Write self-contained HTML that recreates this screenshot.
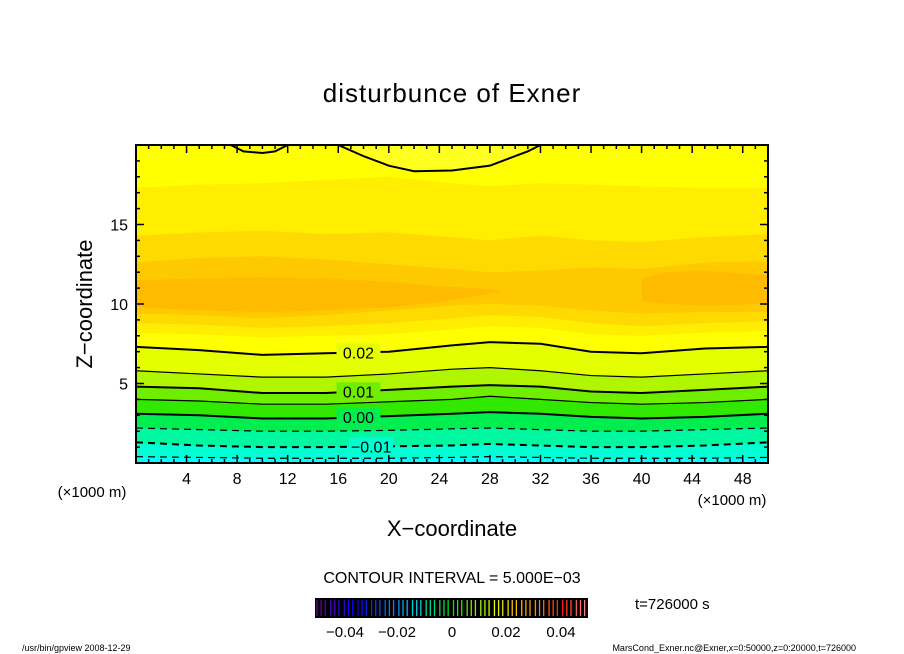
<!DOCTYPE html>
<html><head><meta charset="utf-8"><style>
body{margin:0;background:#fff;}
svg{display:block;font-family:"Liberation Sans","DejaVu Sans",sans-serif;}
</style></head><body>
<svg id="c" width="904" height="654" viewBox="0 0 904 654">
<defs><clipPath id="pc"><rect x="136" y="145" width="632" height="318"/></clipPath></defs>
<g id="fills" clip-path="url(#pc)"></g>
<g id="lines" clip-path="url(#pc)"></g>
<g id="labels"></g>
<rect x="136" y="145" width="632" height="318" fill="none" stroke="#000" stroke-width="2"/>
<g id="ticks"></g>
<text x="452" y="102" font-size="26" text-anchor="middle" letter-spacing="1">disturbunce of Exner</text>
<text x="0" y="0" font-size="22" text-anchor="middle" transform="translate(92,304) rotate(-90)">Z−coordinate</text>
<text x="452" y="536" font-size="22" text-anchor="middle">X−coordinate</text>
<text x="92" y="497" font-size="15" text-anchor="middle">(×1000 m)</text>
<text x="732" y="505" font-size="15" text-anchor="middle">(×1000 m)</text>
<text x="452" y="583" font-size="16" text-anchor="middle">CONTOUR INTERVAL = 5.000E−03</text>
<rect x="315" y="598" width="273" height="20" fill="#000"/>
<g id="cbar"></g>
<g font-size="15" text-anchor="middle">
<text x="345" y="637">−0.04</text><text x="397" y="637">−0.02</text><text x="452" y="637">0</text><text x="506" y="637">0.02</text><text x="561" y="637">0.04</text></g>
<text x="635" y="609" font-size="15">t=726000 s</text>
<text x="22" y="651" font-size="9">/usr/bin/gpview  2008-12-29</text>
<text x="856" y="651" font-size="9" text-anchor="end">MarsCond_Exner.nc@Exner,x=0:50000,z=0:20000,t=726000</text>
</svg>
<script>
const xs=[0,5,10,15,20,25,28,32,36,40,45,50];
const levels=[-0.015,-0.01,-0.005,0,0.005,0.01,0.015,0.02];
const lowerContours=[
[0.4,0.35,0.3,0.3,0.3,0.35,0.4,0.35,0.3,0.3,0.3,0.35],
[1.3,1.1,1.0,1.0,1.05,1.1,1.2,1.1,1.0,1.0,1.1,1.3],
[2.2,2.1,2.0,2.0,2.05,2.15,2.2,2.1,2.0,2.0,2.1,2.2],
[3.1,3.0,2.8,2.8,2.95,3.1,3.2,3.1,2.9,2.8,2.9,3.1],
[4.0,3.9,3.7,3.7,3.85,4.0,4.2,4.0,3.8,3.7,3.8,4.0],
[4.8,4.7,4.4,4.4,4.6,4.8,4.9,4.8,4.5,4.4,4.6,4.8],
[5.8,5.6,5.4,5.4,5.6,5.9,6.0,5.8,5.5,5.4,5.6,5.8],
[7.3,7.1,6.8,6.9,7.0,7.4,7.6,7.5,7.0,6.9,7.2,7.3]];
const bandColors=['#00ffff','#00ffd2','#00f8a0','#00ee50','#30e800','#70ee00','#b0f600','#e4ff00'];
const upperLow=[[8.2,8.1,7.9,8.0,8.1,8.4,8.6,8.5,8.1,8.0,8.2,8.3],[8.8,8.7,8.5,8.6,8.8,9.1,9.3,9.2,8.8,8.6,8.8,8.9],[9.4,9.3,9.1,9.3,9.6,9.9,10.0,9.9,9.6,9.4,9.5,9.5]];
const upperHigh=[[17.3,17.5,17.6,17.8,18,17.6,17.4,17.6,17.5,17.4,17.3,17.3],[14.3,14.5,14.6,14.4,14.5,14.2,14.0,14.3,14.0,13.9,14.2,14.4],[12.6,12.9,13.0,12.8,12.5,12.2,12.0,12.1,12.3,12.2,12.6,12.7]];
const upperColors=['#ffee00','#ffda00','#ffc900'];
const blobLX=[0,5,10,15,20,24,27,29,27,24,20,15,10,5,0];
const blobLZ=[9.8,9.6,9.5,9.6,9.8,10.1,10.5,10.8,11.0,11.1,11.4,11.6,11.7,11.6,11.5];
const blobRX=[40,42,45,50,50,45,42,40];
const blobRZ=[10.2,10.0,9.9,10.0,11.8,12.1,12.0,11.6];
const topX=[16,18,20,22,25,28,31,32];
const topZ=[20,19.3,18.7,18.35,18.4,18.7,19.6,20];
const top2X=[7.5,8.5,10,11,12];
const top2Z=[20,19.6,19.5,19.6,20];
const xTicks=[4,8,12,16,20,24,28,32,36,40,44,48];
const yTicks=[5,10,15];
const cbarLevels=[];for(let i=0;i<20;i++)cbarLevels.push(-0.05+i*0.005);
const X=v=>136+v*632/50, Z=v=>463-v*318/20;
const NS='http://www.w3.org/2000/svg';
function el(t,a,p){const e=document.createElementNS(NS,t);for(const k in a)e.setAttribute(k,a[k]);p.appendChild(e);return e;}
const F=document.getElementById('fills'),L=document.getElementById('lines');
const pts=(zs)=>xs.map((x,i)=>X(x)+','+Z(zs[i])).join(' ');
let r=el('rect',{x:136,y:145,width:632,height:318,fill:'#ffff00'},F);


for(let k=0;k<upperLow.length;k++){
 const p=pts(upperLow[k])+' '+xs.slice().reverse().map((x,j)=>X(x)+','+Z(upperHigh[k][xs.length-1-j])).join(' ');
 const e=el('polygon',{points:p,fill:upperColors[k]},F);
 
 
}
let bl=el('polygon',{points:blobLX.map((x,i)=>X(x)+','+Z(blobLZ[i])).join(' '),fill:'#ffbb00'},F);


let br=el('polygon',{points:blobRX.map((x,i)=>X(x)+','+Z(blobRZ[i])).join(' '),fill:'#ffbb00'},F);


for(let k=lowerContours.length-1;k>=0;k--){
 const e=el('polygon',{points:X(0)+','+Z(0)+' '+pts(lowerContours[k])+' '+X(50)+','+Z(0),fill:bandColors[k]},F);
 
 
}
let tp=topX.map((x,i)=>X(x)+','+Z(topZ[i])).join(' ');
let t1=el('polygon',{points:tp,fill:'#ffff20'},F);


for(let k=0;k<lowerContours.length;k++){
 const lv=levels[k];
 const e=el('polyline',{points:pts(lowerContours[k]),fill:'none',stroke:'#000','stroke-width':(k%2==1)?2:1.2},L);
 if(lv<0)e.setAttribute('stroke-dasharray','7,5');
 
 
}
let tl=el('polyline',{points:tp,fill:'none',stroke:'#000','stroke-width':2},L);


let tl2=el('polyline',{points:top2X.map((x,i)=>X(x)+','+Z(top2Z[i])).join(' '),fill:'none',stroke:'#000','stroke-width':2},L);


const lab=[[7,'0.02',17.6],[5,'0.01',17.6],[3,'0.00',17.6],[1,'−0.01',18.6]];
const LG=document.getElementById('labels');
lab.forEach(([k,t,x])=>{
 const i=xs.findIndex(v=>v>=x);const z=lowerContours[k][i-1]+(lowerContours[k][i]-lowerContours[k][i-1])*(x-xs[i-1])/(xs[i]-xs[i-1]);
 el('rect',{x:X(x)-22,y:Z(z)-9,width:44,height:18,fill:bandColors[Math.min(k,7)]},LG);
 const e=el('text',{x:X(x),y:Z(z)+6,'font-size':16,'text-anchor':'middle'},LG);e.textContent=t;
 
 
});
const T=document.getElementById('ticks');
for(let v=1;v<50;v++){const len=v%4==0?8:4;
 el('line',{x1:X(v),x2:X(v),y1:463,y2:463-len,stroke:'#000','stroke-width':1.5},T);
 el('line',{x1:X(v),x2:X(v),y1:145,y2:145+len,stroke:'#000','stroke-width':1.5},T);}
for(let v=1;v<20;v++){const len=v%5==0?8:4;
 el('line',{x1:136,x2:136+len,y1:Z(v),y2:Z(v),stroke:'#000','stroke-width':1.5},T);
 el('line',{x1:768,x2:768-len,y1:Z(v),y2:Z(v),stroke:'#000','stroke-width':1.5},T);}
xTicks.forEach(v=>{const e=el('text',{x:X(v),y:484,'font-size':16,'text-anchor':'middle'},T);e.textContent=v;
 
 });
yTicks.forEach(v=>{const e=el('text',{x:128,y:Z(v)+6,'font-size':16,'text-anchor':'end'},T);e.textContent=v;
 
 });
const C=document.getElementById('cbar');
const cmap=t=>{const stops=[[0,[120,0,160]],[0.15,[0,0,255]],[0.35,[0,200,255]],[0.5,[0,230,0]],[0.65,[230,255,0]],[0.8,[255,140,0]],[0.9,[255,30,30]],[1,[255,150,150]]];
 for(let i=1;i<stops.length;i++)if(t<=stops[i][0]){const a=stops[i-1],b=stops[i],f=(t-a[0])/(b[0]-a[0]);return 'rgb('+a[1].map((c,j)=>Math.round(c+(b[1][j]-c)*f)).join(',')+')';}return 'rgb(255,150,150)';};
const n=cbarLevels.length,w=273/n;
cbarLevels.forEach((lv,i)=>{for(let j=0;j<3;j++){const x=315+i*w+2+j*w/3.3;
 el('line',{x1:x,x2:x,y1:600,y2:616,stroke:cmap((i+j/3)/n),'stroke-width':1.3},C);}});
</script>
</body></html>
